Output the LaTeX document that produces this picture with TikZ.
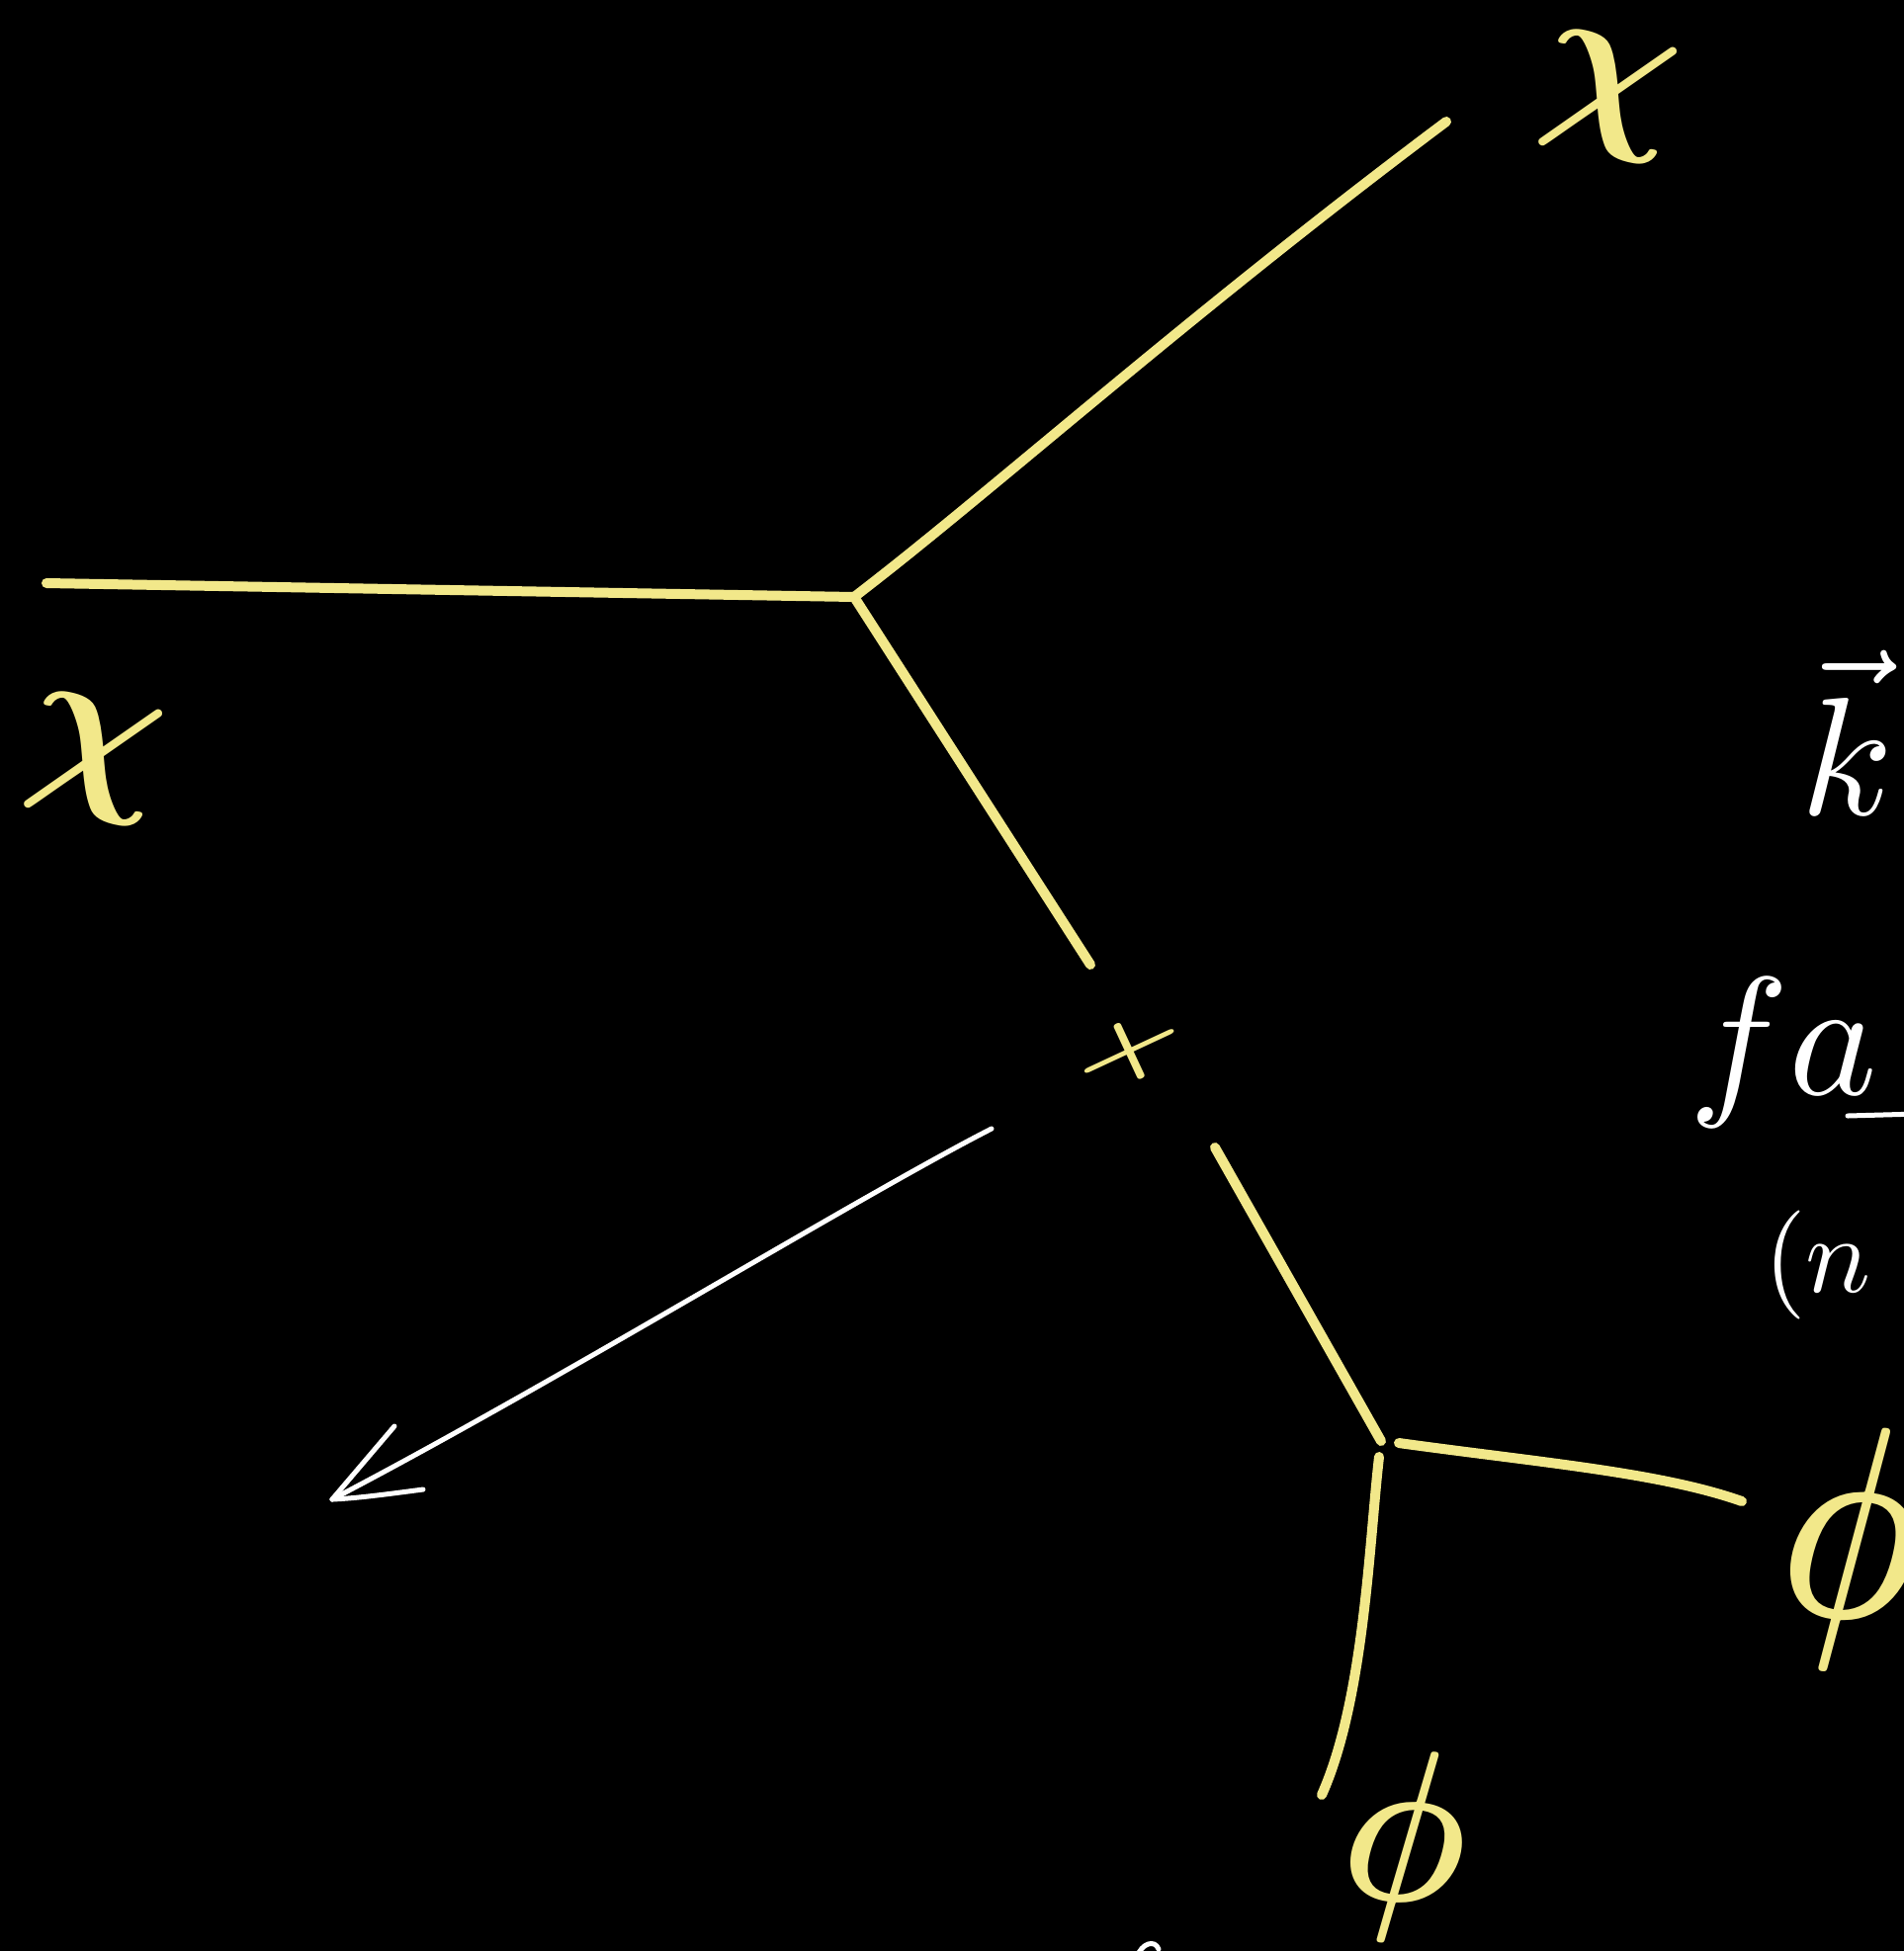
\documentclass[tikz,border=0pt]{standalone}
\usepackage{amsmath}
\definecolor{chalk}{HTML}{F2E88A}
\begin{document}
\begin{tikzpicture}[x=1pt,y=-1pt,
  chalkline/.style={draw=chalk,line width=10pt,line cap=round,line join=round},
  whiteline/.style={draw=white,line width=5pt,line cap=round,line join=round},
  chalklbl/.style={text=chalk,inner sep=0pt},
  whitelbl/.style={text=white,inner sep=0pt}]
\fill[black] (0,0) rectangle (1926,1974);
\useasboundingbox (0,0) rectangle (1926,1974);
\clip (0,0) rectangle (1926,1974);

% vertices and free ends
\coordinate (L) at (47,590);
\coordinate (V1) at (864,604);
\coordinate (TR) at (1463,123);
\coordinate (D1) at (1103,976);
\coordinate (U2) at (1229,1161);
\coordinate (V2) at (1397,1458);
\coordinate (R2) at (1762,1519);
\coordinate (B2) at (1337,1816);
\coordinate (A0) at (1003,1142);
\coordinate (T) at (336,1517);

% chalk lines
\draw[chalkline] (L) -- (V1);
\draw[chalkline] (V1) .. controls (1000,500) and (1200,320) .. (TR);
\draw[chalkline] (V1) -- (D1);
\draw[chalkline] (U2) -- (V2);
\draw[chalkline] (V2) ++(18,2) coordinate (V2r) (V2r) .. controls (1560,1480) and (1680,1490) .. (R2);
\draw[chalkline] (V2) ++(-2,16) coordinate (V2b) (V2b) .. controls (1385,1560) and (1380,1720) .. (B2);

% cross mark
\node[chalklbl, rotate=25, xscale=13, yscale=8] (cross) at (1143,1064) {$\boldsymbol{+}$};

% labels
\node[chalklbl, rotate=-10, scale=19] (chiL) at (95,768) {$\boldsymbol{\chi}$};
\node[chalklbl, rotate=-10, scale=19] (chiT) at (1627,98) {$\boldsymbol{\chi}$};
\node[chalklbl, rotate=-5, scale=28, xscale=0.7] (phiR) at (1872,1567) {$\boldsymbol{\phi}$};
\node[chalklbl, rotate=-5, scale=22, xscale=0.8] (phiB) at (1421,1868) {$\boldsymbol{\phi}$};

% white arrow
\draw[whiteline] (A0) .. controls (870,1210) and (560,1400) .. (T);
\draw[whiteline] (T) -- (399,1443);
\draw[whiteline] (T) .. controls (360,1516) and (390,1512) .. (428,1507);

% cut-off text at the right edge
\node[whitelbl, anchor=north west, scale=17] (kvec) at (1818,655) {$\vec{k}$};
\node[whitelbl, anchor=west, scale=17] (fa) at (1705,1065) {$fa$};
\draw[whiteline] (1869,1129) -- (1940,1127);
\node[whitelbl, anchor=west, scale=11] (paren) at (1782,1280) {$(n$};

% cut-off stroke at the bottom
\draw[whiteline] (1150,1980) .. controls (1155,1966) and (1168,1962) .. (1172,1972);
\end{tikzpicture}
\end{document}
